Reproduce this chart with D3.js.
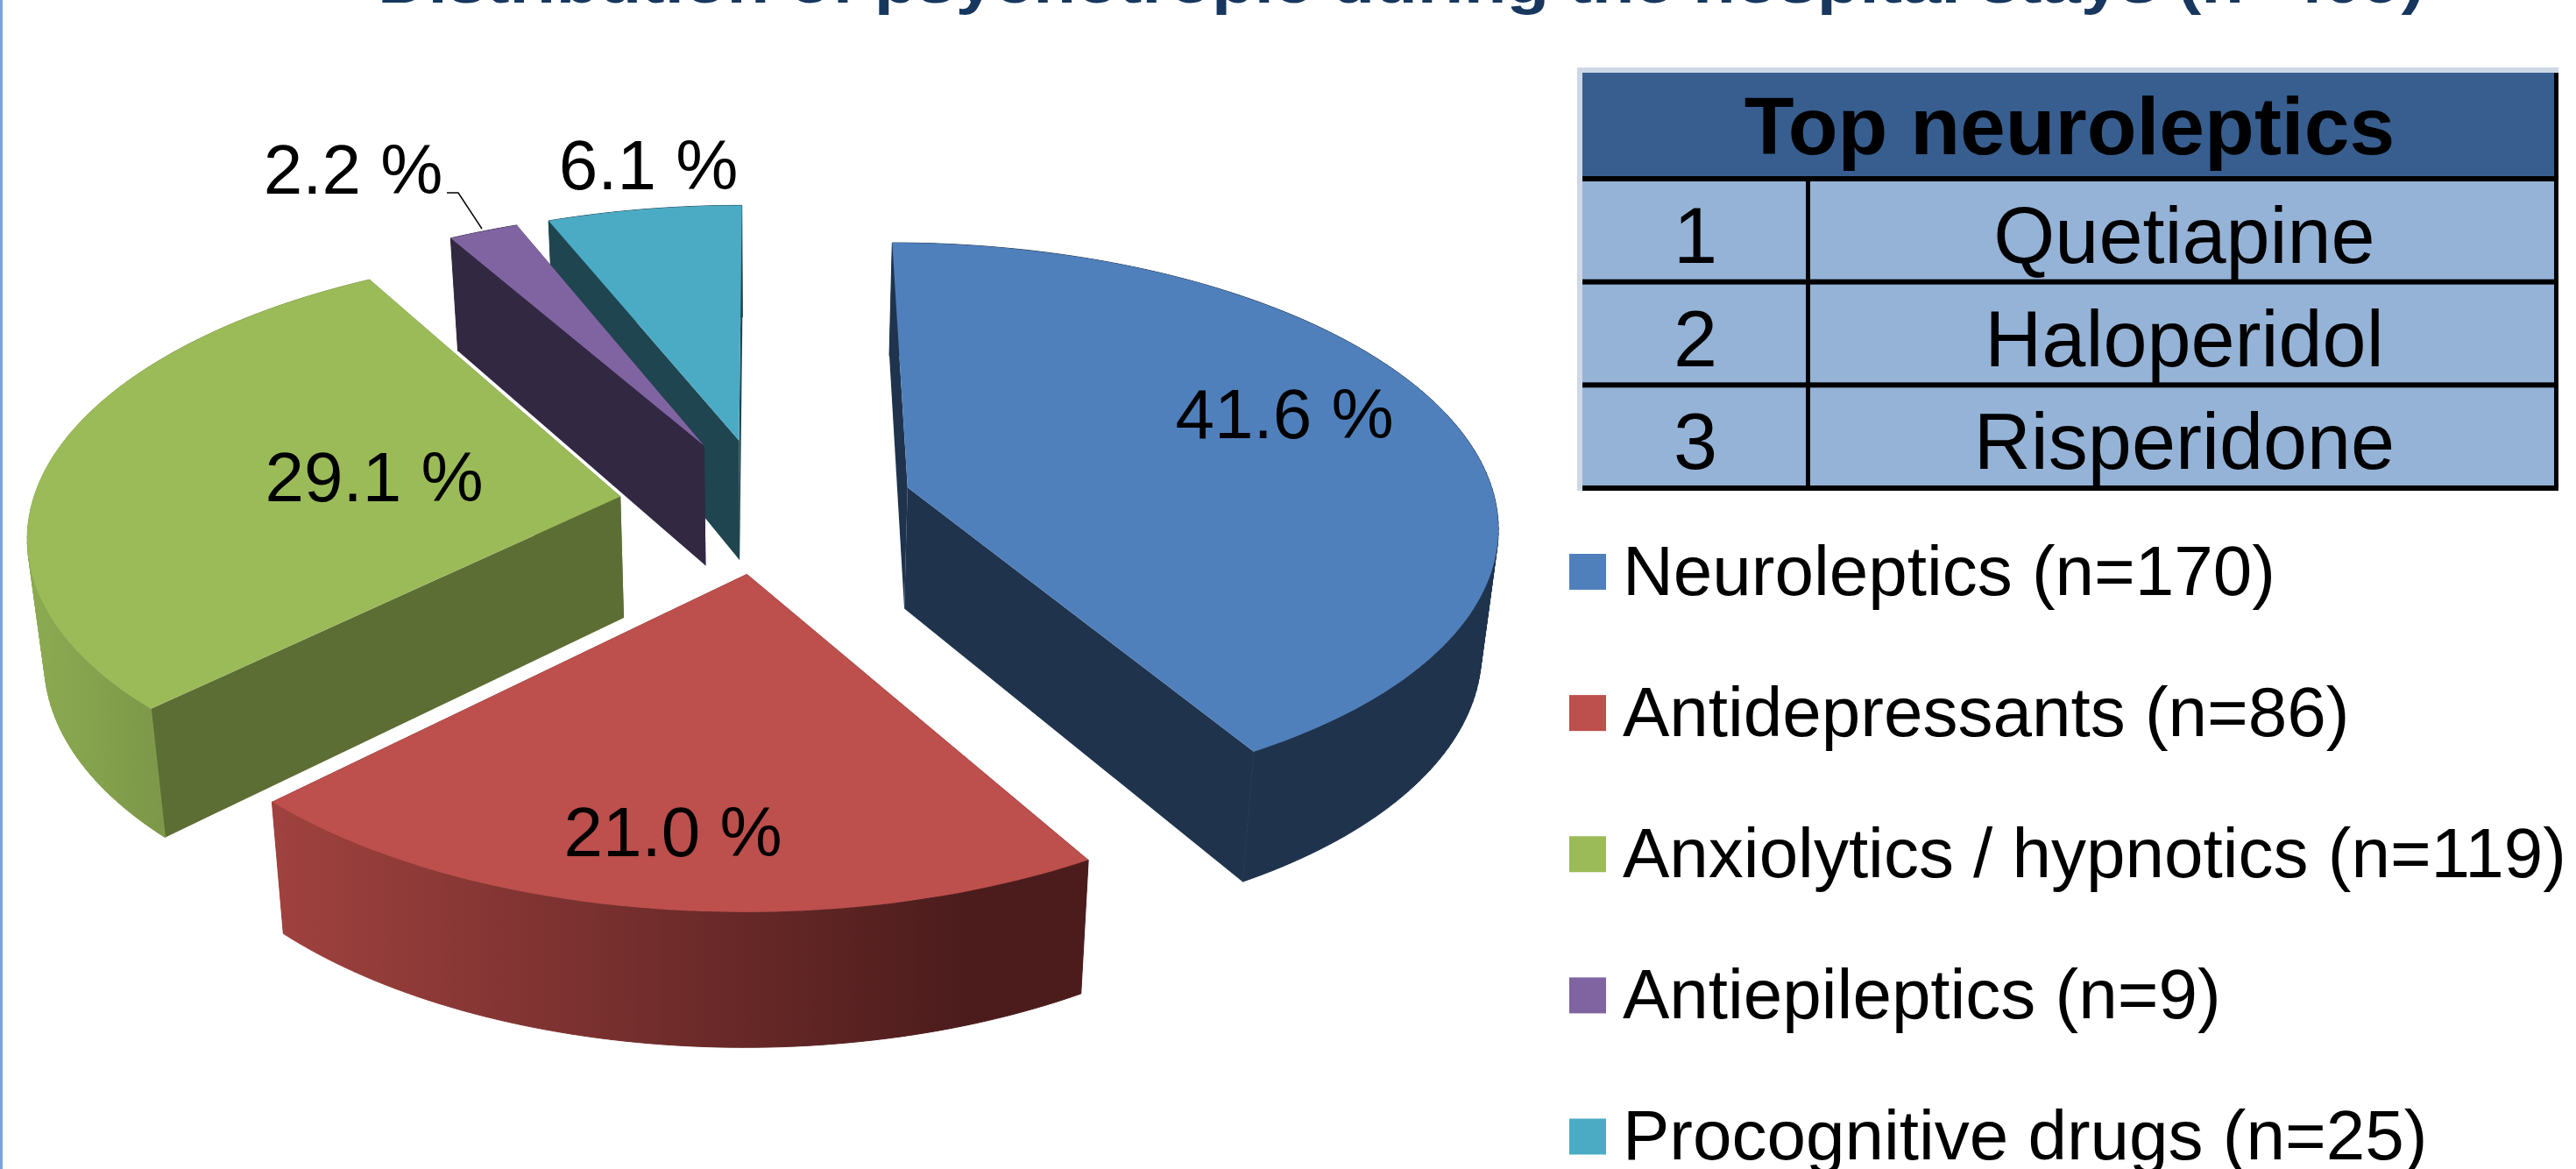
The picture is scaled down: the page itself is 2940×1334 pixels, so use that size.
<!DOCTYPE html>
<html>
<head>
<meta charset="utf-8">
<script src="https://cdn.jsdelivr.net/npm/d3@7"></script>
<style>
  html, body { margin: 0; padding: 0; background: #fff; overflow: hidden; }
  text { font-family: "Liberation Sans", Arial, sans-serif; fill: #000; }
</style>
</head>
<body>
<svg id="chart"></svg>
<script>
// Data
var drugClasses = ["Neuroleptics", "Antidepressants", "Anxiolytics / hypnotics", "Antiepileptics", "Procognitive drugs"];
var drugCounts = [170, 86, 119, 9, 25];
var drugPercents = ["41.6 %", "21.0 %", "29.1 %", "2.2 %", "6.1 %"];
var topRanks = ["1", "2", "3"];
var topNeuroleptics = ["Quetiapine", "Haloperidol", "Risperidone"];
var titleText = "Distribution of psychotropic during the hospital stays (n=409)";
var tableTitle = "Top neuroleptics";

var width = 2940;
var height = 1334;

// Colours: top face, cut faces, and the outer wall shading (left to right)
var topColors = ["#4f80bc", "#bd4f4c", "#9bbb59", "#8064a2", "#4babc5"];
var sideColors = ["#1f334d", "#4e1d1d", "#5d6e34", "#332842", "#1f4550"];
var wallStops = [["#1f334d", "#1f334d"], ["#a0423f", "#4c1c1c"], ["#8dab52", "#7b9748"], ["#332842", "#332842"], ["#1f4550", "#1f4550"]];

// Where the data labels were placed by hand (centre x, baseline)
var labelSpots = [[1466, 500], [768, 977], [427, 572], [403, 221], [740, 216]];

// How far each slice is pulled out of the pie
var explode = [0.2515, 0.24, 0.25, 0.245, 0.245];

var svg = d3.select("#chart").attr("width", width).attr("height", height);
var defs = svg.append("defs");

// Ground plane to screen: tilted pie with a bit of perspective
var persp = 0.122;
var x = d3.scaleLinear().domain([-1, 1]).range([874 - 672, 874 + 672]);
var y = d3.scaleLinear().domain([-1, 1]).range([577 - 318, 577 + 318]);
var cx = x(0), cy = y(0);

function project(d, angle, r, bottom) {
  var mid = (d.startAngle + d.endAngle) / 2;
  var e = explode[d.index];
  var u = e * Math.sin(mid) + r * Math.sin(angle);
  var v = -e * Math.cos(mid) - r * Math.cos(angle);
  var s = 1 / (1 - persp * v);
  var px = cx + (x(u) - cx) * s;
  var py = cy + (y(v) - cy) * s;
  if (bottom) {
    // the lower edge pulls in slightly and the wall gets taller towards the viewer
    px = cx + (px - cx) * 0.977;
    py = py + 139 * (1 + 0.63 * (s - 1));
  }
  return [px, py];
}

function arcAngles(d) {
  var n = Math.max(6, Math.ceil((d.endAngle - d.startAngle) / 0.02));
  return d3.range(n + 1).map(function(i) { return d.startAngle + (d.endAngle - d.startAngle) * i / n; });
}

var line = d3.line();

// Outer wall as small quads, all wound the same way so they merge into one shape
function wallPath(d, angles) {
  var out = "";
  for (var k = 0; k < angles.length - 1; k++) {
    var quad = [
      project(d, angles[k], 1),
      project(d, angles[k + 1], 1),
      project(d, angles[k + 1], 1, true),
      project(d, angles[k], 1, true)
    ];
    if (d3.polygonArea(quad) < 0) quad.reverse();
    out += line(quad) + "Z";
  }
  return out;
}

var pie = d3.pie().sort(null).value(function(d) { return d; }).startAngle(0).endAngle(2 * Math.PI);
var slices = pie(drugCounts);

// back slices first so the nearer ones cover them
var drawOrder = [4, 3, 2, 0, 1];

drawOrder.forEach(function(i) {
  var d = slices[i];
  var g = svg.append("g").attr("class", "slice");
  var angles = arcAngles(d);

  var grad = defs.append("linearGradient").attr("id", "wall" + i);
  grad.append("stop").attr("offset", 0).attr("stop-color", wallStops[i][0]);
  grad.append("stop").attr("offset", i == 2 ? 0.4 : 0.85).attr("stop-color", wallStops[i][1]);

  // the two cut faces
  [d.endAngle, d.startAngle].forEach(function(a) {
    g.append("path")
      .attr("d", line([project(d, a, 0), project(d, a, 1), project(d, a, 1, true), project(d, a, 0, true)]) + "Z")
      .attr("fill", sideColors[i]);
  });

  // outer wall
  g.append("path")
    .attr("d", wallPath(d, angles))
    .attr("fill", "url(#wall" + i + ")")
    .attr("stroke", "url(#wall" + i + ")")
    .attr("stroke-width", 1);

  // top face
  var top = [project(d, 0, 0)].concat(angles.map(function(a) { return project(d, a, 1); }));
  g.append("path").attr("d", line(top) + "Z").attr("fill", topColors[i]);
});

// Data labels
svg.selectAll(".pct")
  .data(drugPercents)
  .enter()
  .append("text")
  .attr("class", "pct")
  .attr("x", function(d, i) { return labelSpots[i][0]; })
  .attr("y", function(d, i) { return labelSpots[i][1]; })
  .attr("text-anchor", "middle")
  .attr("font-size", 80)
  .text(function(d) { return d; });

// Leader line of the small slice
svg.append("path")
  .attr("d", line([[510, 220], [523, 220], [550, 261]]))
  .attr("fill", "none")
  .attr("stroke", "#000")
  .attr("stroke-width", 1.5);

// Left edge of the slide and the cut off title
svg.append("rect").attr("x", 0).attr("y", 0).attr("width", 3).attr("height", height).attr("fill", "#7ba3e0");
svg.append("text")
  .attr("x", 431)
  .attr("y", 3)
  .attr("font-size", 68)
  .attr("font-weight", "bold")
  .attr("textLength", 2336)
  .attr("lengthAdjust", "spacingAndGlyphs")
  .style("fill", "#17375e")
  .text(titleText);

// Table
var table = svg.append("g").attr("class", "table");
var rowY = d3.scaleBand().domain(topRanks).range([207, 560]);
table.append("rect").attr("x", 1800).attr("y", 77).attr("width", 1120).attr("height", 483).attr("fill", "#cdd7e6");
table.append("rect").attr("x", 1806).attr("y", 83).attr("width", 1114).attr("height", 477).attr("fill", "#000");
table.append("rect").attr("x", 1806).attr("y", 83).attr("width", 1109).attr("height", 118).attr("fill", "#375e8f");
table.append("text")
  .attr("x", 2362).attr("y", 176)
  .attr("text-anchor", "middle")
  .attr("font-size", 93)
  .attr("font-weight", "bold")
  .text(tableTitle);

topRanks.forEach(function(rank, i) {
  var top = rowY(rank);
  var h = rowY.bandwidth() - 6;
  table.append("rect").attr("x", 1806).attr("y", top).attr("width", 255).attr("height", h).attr("fill", "#95b3d7");
  table.append("rect").attr("x", 2066).attr("y", top).attr("width", 849).attr("height", h).attr("fill", "#95b3d7");
  table.append("text")
    .attr("x", 1935).attr("y", top + 93)
    .attr("text-anchor", "middle")
    .attr("font-size", 90)
    .text(rank);
  table.append("text")
    .attr("x", 2493).attr("y", top + 93)
    .attr("text-anchor", "middle")
    .attr("font-size", 90)
    .text(topNeuroleptics[i]);
});

// Legend
var legendY = d3.scalePoint().domain(drugClasses).range([652.5, 1297]);
var legend = svg.selectAll(".legend-item")
  .data(drugClasses)
  .enter()
  .append("g")
  .attr("class", "legend-item")
  .attr("transform", function(d) { return "translate(0," + legendY(d) + ")"; });

legend.append("rect")
  .attr("x", 1791).attr("y", -20.5)
  .attr("width", 42).attr("height", 41)
  .attr("fill", function(d, i) { return topColors[i]; });

legend.append("text")
  .attr("x", 1852).attr("y", 26)
  .attr("font-size", 80)
  .text(function(d, i) { return d + " (n=" + drugCounts[i] + ")"; });
</script>
</body>
</html>
